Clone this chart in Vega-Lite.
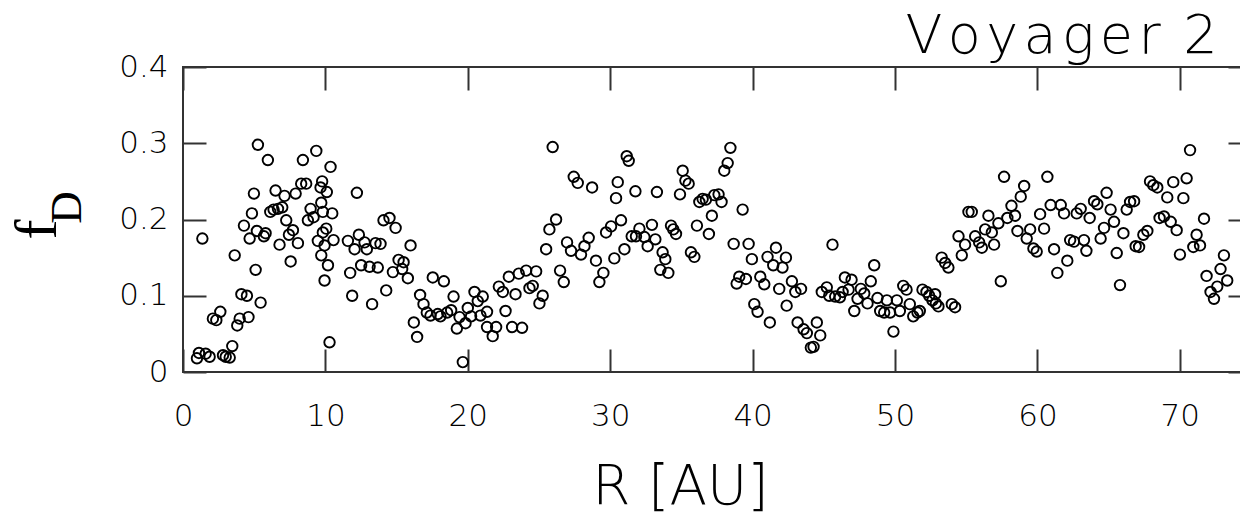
{
  "$schema": "https://vega.github.io/schema/vega-lite/v6.json",
  "width": 1068,
  "height": 305,
  "autosize": {"type": "none"},
  "padding": {"left": 183, "top": 67, "right": 0, "bottom": 142},
  "background": "white",
  "config": {
    "view": {"stroke": "#333", "strokeWidth": 2},
    "axis": {"grid": false, "domain": false, "tickColor": "#333", "tickWidth": 2, "tickSize": -23, "labelFont": "DejaVu Sans", "labelFontSize": 31, "labelFontWeight": 200, "labelColor": "#000", "titleColor": "#000"}
  },
  "data": {"values": [
{"R":5.26,"f":0.298},{"R":5.96,"f":0.278},{"R":9.36,"f":0.290},{"R":8.42,"f":0.278},{"R":10.36,"f":0.269},{"R":8.30,"f":0.247},{"R":8.65,"f":0.247},{"R":9.77,"f":0.250},{"R":9.66,"f":0.242},{"R":10.10,"f":0.236},{"R":4.98,"f":0.234},{"R":6.50,"f":0.238},{"R":7.13,"f":0.231},{"R":7.91,"f":0.234},{"R":9.71,"f":0.222},{"R":8.96,"f":0.214},{"R":9.82,"f":0.210},{"R":10.48,"f":0.208},{"R":6.13,"f":0.210},{"R":6.36,"f":0.213},{"R":6.67,"f":0.214},{"R":6.97,"f":0.216},{"R":4.84,"f":0.208},{"R":7.25,"f":0.199},{"R":8.77,"f":0.199},{"R":9.17,"f":0.203},{"R":4.28,"f":0.192},{"R":7.72,"f":0.186},{"R":10.06,"f":0.188},{"R":9.82,"f":0.183},{"R":5.19,"f":0.185},{"R":5.80,"f":0.182},{"R":5.68,"f":0.178},{"R":4.68,"f":0.175},{"R":7.44,"f":0.180},{"R":10.57,"f":0.173},{"R":9.47,"f":0.172},{"R":6.78,"f":0.167},{"R":8.07,"f":0.169},{"R":9.94,"f":0.166},{"R":1.36,"f":0.175},{"R":3.63,"f":0.153},{"R":9.71,"f":0.153},{"R":7.56,"f":0.145},{"R":10.18,"f":0.140},{"R":5.10,"f":0.134},{"R":9.94,"f":0.120},{"R":4.10,"f":0.102},{"R":4.49,"f":0.100},{"R":5.45,"f":0.091},{"R":2.62,"f":0.079},{"R":2.10,"f":0.070},{"R":2.34,"f":0.068},{"R":3.98,"f":0.070},{"R":4.60,"f":0.072},{"R":3.81,"f":0.061},{"R":10.29,"f":0.039},{"R":3.46,"f":0.034},{"R":1.12,"f":0.025},{"R":1.59,"f":0.024},{"R":1.87,"f":0.020},{"R":0.98,"f":0.018},{"R":2.81,"f":0.022},{"R":3.00,"f":0.020},{"R":3.28,"f":0.019},
{"R":12.21,"f":0.235},{"R":14.08,"f":0.199},{"R":14.50,"f":0.202},{"R":14.93,"f":0.189},{"R":11.58,"f":0.172},{"R":12.35,"f":0.180},{"R":12.05,"f":0.161},{"R":12.75,"f":0.170},{"R":12.91,"f":0.161},{"R":13.52,"f":0.169},{"R":13.87,"f":0.168},{"R":15.98,"f":0.166},{"R":12.51,"f":0.140},{"R":13.10,"f":0.138},{"R":13.68,"f":0.137},{"R":11.74,"f":0.130},{"R":15.14,"f":0.147},{"R":15.49,"f":0.144},{"R":14.74,"f":0.131},{"R":15.39,"f":0.135},{"R":15.79,"f":0.123},{"R":17.54,"f":0.124},{"R":18.32,"f":0.119},{"R":11.88,"f":0.100},{"R":13.28,"f":0.089},{"R":14.27,"f":0.107},{"R":16.65,"f":0.101},{"R":16.89,"f":0.089},{"R":17.12,"f":0.078},{"R":17.38,"f":0.074},{"R":17.89,"f":0.076},{"R":18.08,"f":0.073},{"R":18.55,"f":0.078},{"R":18.83,"f":0.081},{"R":19.00,"f":0.099},{"R":19.42,"f":0.072},{"R":19.23,"f":0.057},{"R":19.84,"f":0.064},{"R":20.00,"f":0.084},{"R":20.47,"f":0.105},{"R":20.70,"f":0.093},{"R":21.05,"f":0.099},{"R":20.23,"f":0.073},{"R":20.89,"f":0.074},{"R":21.35,"f":0.079},{"R":21.35,"f":0.059},{"R":16.21,"f":0.065},{"R":16.44,"f":0.046},{"R":19.65,"f":0.013},
{"R":25.96,"f":0.295},{"R":31.16,"f":0.283},{"R":31.30,"f":0.277},{"R":27.44,"f":0.256},{"R":27.72,"f":0.248},{"R":28.73,"f":0.242},{"R":30.53,"f":0.249},{"R":30.41,"f":0.228},{"R":26.20,"f":0.200},{"R":25.73,"f":0.187},{"R":25.50,"f":0.161},{"R":26.97,"f":0.170},{"R":27.25,"f":0.159},{"R":27.95,"f":0.154},{"R":28.19,"f":0.165},{"R":28.49,"f":0.176},{"R":29.00,"f":0.146},{"R":29.52,"f":0.130},{"R":29.24,"f":0.118},{"R":29.71,"f":0.183},{"R":30.06,"f":0.191},{"R":30.76,"f":0.199},{"R":30.29,"f":0.149},{"R":31.00,"f":0.161},{"R":31.51,"f":0.178},{"R":26.48,"f":0.133},{"R":26.74,"f":0.118},{"R":24.80,"f":0.132},{"R":24.10,"f":0.133},{"R":23.58,"f":0.129},{"R":22.88,"f":0.125},{"R":24.33,"f":0.110},{"R":24.56,"f":0.113},{"R":25.26,"f":0.100},{"R":25.03,"f":0.090},{"R":22.18,"f":0.112},{"R":22.46,"f":0.105},{"R":23.35,"f":0.102},{"R":22.65,"f":0.080},{"R":21.99,"f":0.059},{"R":21.75,"f":0.047},{"R":23.11,"f":0.059},{"R":23.81,"f":0.058},
{"R":38.44,"f":0.294},{"R":38.25,"f":0.274},{"R":38.01,"f":0.264},{"R":35.09,"f":0.264},{"R":35.28,"f":0.251},{"R":35.51,"f":0.247},{"R":31.77,"f":0.237},{"R":33.28,"f":0.236},{"R":34.90,"f":0.233},{"R":36.26,"f":0.223},{"R":36.49,"f":0.227},{"R":36.72,"f":0.226},{"R":37.31,"f":0.232},{"R":37.61,"f":0.233},{"R":37.82,"f":0.223},{"R":39.30,"f":0.213},{"R":37.14,"f":0.205},{"R":36.09,"f":0.192},{"R":36.93,"f":0.181},{"R":32.05,"f":0.188},{"R":31.81,"f":0.178},{"R":32.40,"f":0.177},{"R":32.93,"f":0.193},{"R":33.17,"f":0.174},{"R":32.63,"f":0.165},{"R":34.27,"f":0.192},{"R":34.43,"f":0.187},{"R":34.62,"f":0.181},{"R":33.68,"f":0.157},{"R":33.87,"f":0.148},{"R":33.52,"f":0.134},{"R":34.08,"f":0.130},{"R":35.67,"f":0.157},{"R":35.91,"f":0.151},{"R":38.67,"f":0.168},{"R":39.72,"f":0.168},{"R":39.95,"f":0.148},{"R":41.64,"f":0.163},{"R":41.05,"f":0.151},{"R":41.45,"f":0.140},{"R":42.10,"f":0.137},{"R":42.34,"f":0.150},{"R":39.06,"f":0.125},{"R":38.88,"f":0.116},{"R":39.53,"f":0.122},{"R":40.54,"f":0.125},{"R":40.82,"f":0.115},{"R":41.87,"f":0.109},{"R":40.12,"f":0.089},{"R":40.35,"f":0.079},{"R":41.21,"f":0.065},{"R":42.39,"f":0.087},
{"R":42.76,"f":0.119},{"R":43.00,"f":0.105},{"R":43.40,"f":0.109},{"R":43.16,"f":0.065},{"R":43.58,"f":0.056},{"R":43.81,"f":0.051},{"R":44.51,"f":0.065},{"R":44.75,"f":0.048},{"R":44.09,"f":0.032},{"R":44.28,"f":0.033},{"R":45.61,"f":0.167},{"R":44.86,"f":0.105},{"R":45.21,"f":0.111},{"R":45.38,"f":0.100},{"R":45.80,"f":0.099},{"R":46.13,"f":0.098},{"R":46.32,"f":0.105},{"R":46.48,"f":0.124},{"R":46.95,"f":0.121},{"R":46.74,"f":0.108},{"R":47.60,"f":0.109},{"R":47.84,"f":0.103},{"R":47.37,"f":0.096},{"R":48.07,"f":0.090},{"R":47.14,"f":0.080},{"R":48.30,"f":0.119},{"R":48.54,"f":0.140},{"R":48.77,"f":0.097},{"R":49.43,"f":0.094},{"R":50.13,"f":0.094},{"R":48.96,"f":0.080},{"R":49.24,"f":0.078},{"R":49.66,"f":0.078},{"R":50.34,"f":0.080},{"R":49.89,"f":0.053},{"R":50.58,"f":0.113},{"R":50.81,"f":0.108},{"R":51.04,"f":0.089},{"R":51.28,"f":0.073},{"R":51.58,"f":0.078},{"R":51.74,"f":0.080},{"R":51.93,"f":0.108},{"R":52.21,"f":0.105},{"R":52.40,"f":0.100},{"R":52.63,"f":0.094},{"R":52.87,"f":0.090},{"R":52.82,"f":0.102},
{"R":53.05,"f":0.086},{"R":53.99,"f":0.089},{"R":54.22,"f":0.085},{"R":53.28,"f":0.150},{"R":53.52,"f":0.143},{"R":53.75,"f":0.137},{"R":54.69,"f":0.153},{"R":54.92,"f":0.167},{"R":54.46,"f":0.178},{"R":55.63,"f":0.178},{"R":55.91,"f":0.170},{"R":56.10,"f":0.163},{"R":56.33,"f":0.187},{"R":56.80,"f":0.183},{"R":56.96,"f":0.167},{"R":55.16,"f":0.210},{"R":55.39,"f":0.210},{"R":56.56,"f":0.205},{"R":57.26,"f":0.195},{"R":57.66,"f":0.256},{"R":57.43,"f":0.119},{"R":57.89,"f":0.202},{"R":58.18,"f":0.218},{"R":58.43,"f":0.205},{"R":58.83,"f":0.230},{"R":59.07,"f":0.244},{"R":58.60,"f":0.185},{"R":59.25,"f":0.175},{"R":59.49,"f":0.187},{"R":59.72,"f":0.162},{"R":59.95,"f":0.158},{"R":60.19,"f":0.207},{"R":60.47,"f":0.188},{"R":60.70,"f":0.256},{"R":60.93,"f":0.219},{"R":61.17,"f":0.161},{"R":61.40,"f":0.130},{"R":62.10,"f":0.146},{"R":61.64,"f":0.219},{"R":61.87,"f":0.208},{"R":62.30,"f":0.173},{"R":62.57,"f":0.171},{"R":62.76,"f":0.208},{"R":63.04,"f":0.214},{"R":63.27,"f":0.173},{"R":63.44,"f":0.159},
{"R":63.67,"f":0.202},{"R":63.98,"f":0.224},{"R":64.21,"f":0.220},{"R":64.86,"f":0.235},{"R":65.14,"f":0.213},{"R":65.38,"f":0.197},{"R":64.68,"f":0.189},{"R":64.44,"f":0.175},{"R":66.04,"f":0.182},{"R":65.57,"f":0.156},{"R":65.80,"f":0.114},{"R":66.27,"f":0.213},{"R":66.51,"f":0.223},{"R":66.79,"f":0.224},{"R":66.90,"f":0.165},{"R":67.14,"f":0.164},{"R":67.44,"f":0.180},{"R":67.72,"f":0.185},{"R":67.91,"f":0.250},{"R":68.14,"f":0.245},{"R":68.42,"f":0.242},{"R":69.12,"f":0.229},{"R":68.58,"f":0.202},{"R":68.89,"f":0.204},{"R":69.36,"f":0.197},{"R":69.78,"f":0.186},{"R":69.54,"f":0.249},{"R":70.48,"f":0.254},{"R":70.25,"f":0.228},{"R":70.72,"f":0.291},{"R":70.01,"f":0.154},{"R":71.18,"f":0.180},{"R":71.42,"f":0.166},{"R":70.95,"f":0.164},{"R":71.70,"f":0.201},{"R":73.10,"f":0.153},{"R":72.86,"f":0.135},{"R":73.33,"f":0.120},{"R":72.63,"f":0.112},{"R":72.16,"f":0.105},{"R":72.40,"f":0.096},{"R":71.88,"f":0.126}
  ]},
  "resolve": {"axis": {"x": "independent", "y": "independent"}},
  "layer": [
    {
      "mark": {"type": "point", "shape": "circle", "filled": false, "stroke": "#000", "strokeWidth": 1.9, "size": 110, "opacity": 1},
      "encoding": {
        "x": {"field": "R", "type": "quantitative", "scale": {"domain": [0, 75], "nice": false},
          "axis": {"orient": "bottom", "values": [0,10,20,30,40,50,60,70], "format": "d", "labelPadding": 52, "title": "R [AU]", "titleFont": "DejaVu Sans", "titleFontSize": 55, "titleFontWeight": 200, "titleX": 497, "titleY": 131, "titleAlign": "center", "titleBaseline": "alphabetic", "labelFlush": false}},
        "y": {"field": "f", "type": "quantitative", "scale": {"domain": [0, 0.4], "nice": false},
          "axis": {"orient": "left", "values": [0,0.1,0.2,0.3,0.4], "format": ".1~f", "labelPadding": 38, "title": "f", "titleFont": "Liberation Serif", "titleFontSize": 60, "titleFontWeight": "normal", "titleX": -128, "titleY": 162, "titleAlign": "center", "titleBaseline": "alphabetic", "titleAngle": -90}}
      }
    },
    {
      "mark": {"type": "point", "opacity": 0},
      "encoding": {
        "x": {"field": "R", "type": "quantitative", "axis": {"orient": "top", "values": [0,10,20,30,40,50,60,70], "labels": false, "title": "V\u200ao\u200ay\u200aa\u200ag\u200ae\u200ar \u200a2", "titleFont": "DejaVu Sans", "titleFontSize": 54, "titleFontWeight": 200, "titleX": 878, "titleY": -15, "titleAlign": "center", "titleBaseline": "alphabetic"}},
        "y": {"field": "f", "type": "quantitative", "axis": {"orient": "right", "values": [0,0.1,0.2,0.3,0.4], "labels": false, "title": null}}
      }
    },
    {
      "mark": {"type": "point", "opacity": 0},
      "encoding": {
        "y": {"field": "f", "type": "quantitative", "axis": {"orient": "left", "ticks": false, "labels": false, "title": "D", "titleFont": "Liberation Serif", "titleFontSize": 45, "titleFontWeight": "normal", "titleX": -103, "titleY": 140, "titleAlign": "center", "titleBaseline": "alphabetic", "titleAngle": -90}}
      }
    }
  ]
}
